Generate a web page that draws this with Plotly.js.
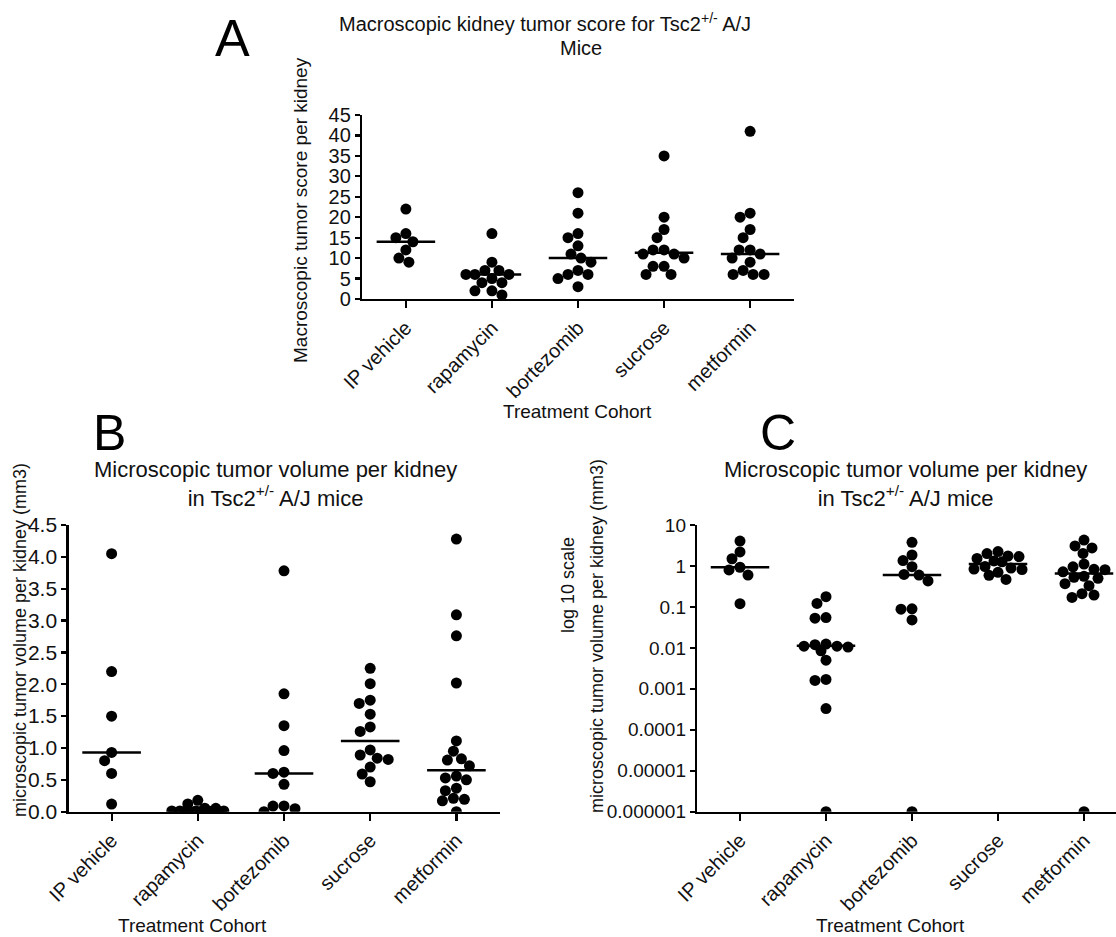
<!DOCTYPE html>
<html>
<head>
<meta charset="utf-8">
<script src="https://cdn.plot.ly/plotly-3.0.1.min.js"></script>
<style>html,body{margin:0;padding:0;background:#fff;}#chart{width:1116px;height:937px;}</style>
</head>
<body>
<div id="chart"></div>
<script>
// ---------- DATA ----------
const categories = ["IP vehicle", "rapamycin", "bortezomib", "sucrose", "metformin"];

// Panel A: macroscopic tumor score per kidney
const macroIPVehicle = [22, 16, 15, 14, 12, 10, 9];
const macroRapamycin = [16, 9, 7, 7, 6, 6, 6, 5, 4, 4, 2, 2, 1];
const macroBortezomib = [26, 21, 16, 15, 13, 11, 10, 9, 7, 6, 6, 5, 3];
const macroSucrose = [35, 20, 17, 15, 12, 12, 11, 11, 10, 8, 8, 6, 6];
const macroMetformin = [41, 21, 20, 17, 15, 12, 12, 11, 10, 9, 7, 6, 6, 6];
const macroMedians = [14, 6, 10, 11.3, 11];

// Panels B and C: microscopic tumor volume per kidney (mm3)
const microIPVehicle = [4.05, 2.2, 1.5, 0.93, 0.8, 0.6, 0.12];
const microRapamycin = [0.178, 0.122, 0.055, 0.053, 0.0124, 0.012, 0.011, 0.011, 0.0105, 0.0085, 0.005, 0.0017, 0.0016, 0.00033, 0];
const microBortezomib = [3.78, 1.85, 1.35, 0.96, 0.62, 0.6, 0.43, 0.09, 0.088, 0.048, 0];
const microSucrose = [2.25, 2.01, 1.75, 1.7, 1.53, 1.33, 1.26, 0.97, 0.89, 0.84, 0.82, 0.7, 0.59, 0.47];
const microMetformin = [4.28, 3.09, 2.76, 2.02, 1.11, 0.95, 0.83, 0.81, 0.72, 0.56, 0.53, 0.5, 0.37, 0.33, 0.21, 0.195, 0.17, 0];
const microMedians = [0.93, 0.0113, 0.6, 1.11, 0.65];

const yTicksA = [0, 5, 10, 15, 20, 25, 30, 35, 40, 45];
const yTicksB = [0, 0.5, 1, 1.5, 2, 2.5, 3, 3.5, 4, 4.5];
const yTicksC = [10, 1, 0.1, 0.01, 0.001, 0.0001, 0.00001, 0.000001];
const yTickTextC = ["10", "1", "0.1", "0.01", "0.001", "0.0001", "0.00001", "0.000001"];

// ---------- LAYOUT GEOMETRY (pixels in the 1116x937 page) ----------
const W = 1116, H = 937;
const geoA = {x0: 362, x1: 794, yTop: 115, yBot: 299};
const geoB = {x0: 68.5, x1: 499.5, yTop: 525, yBot: 811.7};
const geoC = {x0: 697, x1: 1116, yTop: 525, yBot: 811.7};
const FONT = "Liberation Sans, Arial, Helvetica, sans-serif";
const INK = "#111";

const dx = v => v / W;
const dy = v => 1 - v / H;

// simple beeswarm: offsets (in category units) computed from the values
function swarm(vals, toPx, catPx, maxW) {
  const d = 10.5;
  const idx = vals.map((v, i) => i).sort((a, b) => toPx(vals[b]) - toPx(vals[a]));
  const placed = [];
  const off = new Array(vals.length).fill(0);
  idx.forEach(i => {
    const y = toPx(vals[i]);
    let best = null, bestScore = -1;
    for (let k = 0; k <= 2 * maxW; k++) {
      const x = k === 0 ? 0 : (k % 2 ? -Math.ceil(k / 2) : Math.ceil(k / 2));
      let minD = Infinity;
      placed.forEach(p => { minD = Math.min(minD, Math.hypot(p.x - x, p.y - y)); });
      if (minD >= d) { best = x; bestScore = Infinity; break; }
      if (minD > bestScore + 0.5) { bestScore = minD; best = x; }
    }
    placed.push({x: best, y: y});
    off[i] = best / catPx;
  });
  return off;
}

const traces = [];
function addPanel(groups, medians, xa, ya, toPx, catPx, mapY, clip) {
  const xs = [], ys = [];
  groups.forEach((vals, i) => {
    const off = swarm(vals, toPx, catPx, 26);
    vals.forEach((v, j) => { xs.push(i + off[j]); ys.push(mapY(v)); });
  });
  traces.push({
    type: "scatter", mode: "markers", x: xs, y: ys, xaxis: xa, yaxis: ya,
    marker: {color: "#000", size: 11, line: {width: 0}},
    cliponaxis: clip, hoverinfo: "skip", showlegend: false
  });
  const mx = [], my = [];
  medians.forEach((m, i) => { mx.push(i - 0.34, i + 0.34, null); my.push(m, m, null); });
  traces.push({
    type: "scatter", mode: "lines", x: mx, y: my, xaxis: xa, yaxis: ya,
    line: {color: "#000", width: 2.5}, hoverinfo: "skip", showlegend: false
  });
}

const pxA = (geoA.yBot - geoA.yTop) / 45;
const pxB = (geoB.yBot - geoB.yTop) / 4.5;
const pxC = (geoC.yBot - geoC.yTop) / 7;
const catA = (geoA.x1 - geoA.x0) / 5.02;
const catB = (geoB.x1 - geoB.x0) / 5.0;
const catC = 86;

addPanel([macroIPVehicle, macroRapamycin, macroBortezomib, macroSucrose, macroMetformin], macroMedians,
  "x", "y", v => v * pxA, catA, v => v, false);
addPanel([microIPVehicle, microRapamycin, microBortezomib, microSucrose, microMetformin], microMedians,
  "x2", "y2", v => v * pxB, catB, v => v, true);
addPanel([microIPVehicle, microRapamycin, microBortezomib, microSucrose, microMetformin], microMedians,
  "x3", "y3", v => Math.log10(Math.max(v, 1e-6)) * pxC, catC, v => (v > 0 ? v : 1e-6), true);

const axisStyle = {
  showline: true, linecolor: "#000", linewidth: 2.2, ticks: "outside", ticklen: 6, tickwidth: 2.2,
  tickcolor: "#000", showgrid: false, zeroline: false, automargin: false,
  tickfont: {family: FONT, size: 19, color: INK}
};
function xAxis(geo, range, anchor) {
  return Object.assign({}, axisStyle, {
    domain: [dx(geo.x0), dx(geo.x1)], range: range, anchor: anchor,
    tickmode: "array", tickvals: categories.map((c, i) => i), ticktext: categories, tickangle: -45,
    ticklen: 7, tickfont: {family: FONT, size: 20, color: INK}
  });
}
const layout = {
  width: W, height: H, margin: {l: 0, r: 0, t: 0, b: 0},
  paper_bgcolor: "#fff", plot_bgcolor: "rgba(0,0,0,0)", showlegend: false,
  font: {family: FONT, color: INK},
  xaxis: xAxis(geoA, [-0.51, 4.51], "y"),
  yaxis: Object.assign({}, axisStyle, {
    domain: [dy(geoA.yBot), dy(geoA.yTop)], range: [0, 45], anchor: "x",
    tickmode: "array", tickvals: yTicksA, ticktext: yTicksA.map(String), ticklen: 5,
    tickfont: {family: FONT, size: 20, color: INK}
  }),
  xaxis2: xAxis(geoB, [-0.5, 4.5], "y2"),
  yaxis2: Object.assign({}, axisStyle, {
    domain: [dy(geoB.yBot), dy(geoB.yTop)], range: [0, 4.5], anchor: "x2",
    tickmode: "array", tickvals: yTicksB, ticktext: yTicksB.map(v => v.toFixed(1)), ticklen: 5,
    tickfont: {family: FONT, size: 21, color: INK}
  }),
  xaxis3: xAxis(geoC, [-0.5, 4.372], "y3"),
  yaxis3: Object.assign({}, axisStyle, {
    domain: [dy(geoC.yBot), dy(geoC.yTop)], type: "log", range: [-6, 1], anchor: "x3",
    tickmode: "array", tickvals: yTicksC, ticktext: yTickTextC, ticklen: 5
  }),
  annotations: [
    // panel letters
    {text: "A", x: dx(232), y: dy(38), font: {size: 52, family: FONT, color: "#000"}},
    {text: "B", x: dx(109), y: dy(433), font: {size: 50, family: FONT, color: "#000"}},
    {text: "C", x: dx(778), y: dy(433), font: {size: 50, family: FONT, color: "#000"}},
    // titles
    {text: "Macroscopic kidney tumor score for Tsc2<sup>+/-</sup> A/J", x: dx(545), y: dy(22),
      font: {size: 20, family: FONT, color: INK}},
    {text: "Mice", x: dx(581), y: dy(48), font: {size: 20, family: FONT, color: INK}},
    {text: "Microscopic tumor volume per kidney<br>in Tsc2<sup>+/-</sup> A/J mice", x: dx(275), y: dy(484),
      font: {size: 22, family: FONT, color: INK}},
    {text: "Microscopic tumor volume per kidney<br>in Tsc2<sup>+/-</sup> A/J mice", x: dx(906), y: dy(484),
      font: {size: 22, family: FONT, color: INK}},
    // x-axis titles
    {text: "Treatment Cohort", x: dx(578), y: dy(412), font: {size: 19, family: FONT, color: INK}},
    {text: "Treatment Cohort", x: dx(192), y: dy(925), font: {size: 19, family: FONT, color: INK}},
    {text: "Treatment Cohort", x: dx(890), y: dy(925), font: {size: 19, family: FONT, color: INK}},
    // y-axis titles
    {text: "Macroscopic tumor score per kidney", x: dx(300), y: dy(210), textangle: -90,
      font: {size: 19, family: FONT, color: INK}},
    {text: "microscopic tumor volume per kidney (mm3)", x: dx(20), y: dy(640), textangle: -90,
      font: {size: 18, family: FONT, color: INK}},
    {text: "log 10 scale", x: dx(568), y: dy(585), textangle: -90,
      font: {size: 18, family: FONT, color: INK}},
    {text: "microscopic tumor volume per kidney (mm3)", x: dx(597), y: dy(636), textangle: -90,
      font: {size: 18, family: FONT, color: INK}}
  ].map(a => Object.assign({xref: "paper", yref: "paper", showarrow: false, xanchor: "center", yanchor: "middle"}, a))
};

Plotly.newPlot("chart", traces, layout, {staticPlot: true, displayModeBar: false});
</script>
</body>
</html>
